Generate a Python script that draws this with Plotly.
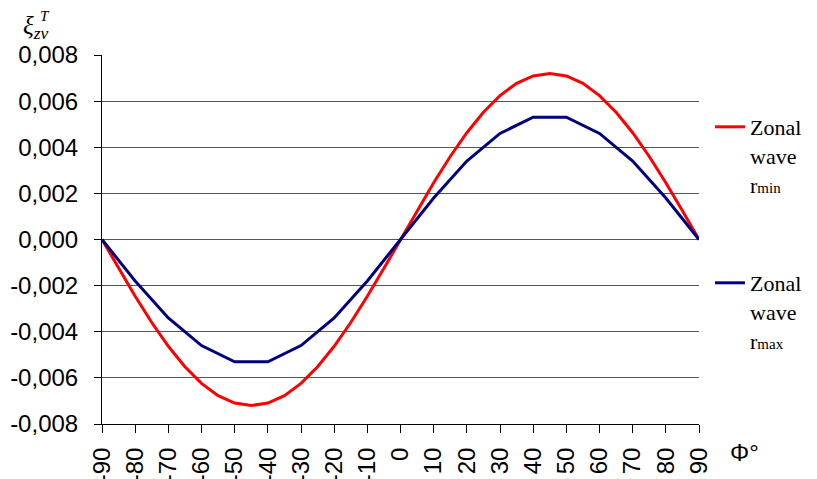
import plotly.graph_objects as go

# Latitude (degrees)
phi_red = [-90, -85, -80, -75, -70, -65, -60, -55, -50, -45, -40, -35, -30, -25, -20, -15, -10, -5,
           0, 5, 10, 15, 20, 25, 30, 35, 40, 45, 50, 55, 60, 65, 70, 75, 80, 85, 90]
zonal_rmin = [0.0, -0.00125, -0.00246, -0.0036, -0.00463, -0.00552, -0.00624, -0.00677, -0.00709, -0.0072,
              -0.00709, -0.00677, -0.00624, -0.00552, -0.00463, -0.0036, -0.00246, -0.00125,
              0.0, 0.00125, 0.00246, 0.0036, 0.00463, 0.00552, 0.00624, 0.00677, 0.00709, 0.0072,
              0.00709, 0.00677, 0.00624, 0.00552, 0.00463, 0.0036, 0.00246, 0.00125, 0.0]
phi_blue = [-90, -80, -70, -60, -50, -40, -30, -20, -10, 0, 10, 20, 30, 40, 50, 60, 70, 80, 90]
zonal_rmax = [0.0, -0.0018, -0.0034, -0.0046, -0.0053, -0.0053, -0.0046, -0.0034, -0.0018,
              0.0, 0.0018, 0.0034, 0.0046, 0.0053, 0.0053, 0.0046, 0.0034, 0.0018, 0.0]
x_ticks = list(range(-90, 91, 10))
x_tick_labels = ["-90", "-80", "-70", "-60", "-50", "-40", "-30", "-20", "-10", "0",
                 "10", "20", "30", "40", "50", "60", "70", "80", "90"]
y_ticks = [-0.008, -0.006, -0.004, -0.002, 0.0, 0.002, 0.004, 0.006, 0.008]
y_tick_labels = ["-0,008", "-0,006", "-0,004", "-0,002", "0,000", "0,002", "0,004", "0,006", "0,008"]

# page body has an 8px margin; screen coords = figure coords + 8
OFF = 8
W, H = 817, 479
L = 102 - OFF
T = 55 - OFF
R = W - (699 - OFF)
B = H - (424 - OFF)
pw, ph = W - L - R, H - T - B


def px(x):
    return (x - OFF - L) / pw


def py(y):
    return (H - B - (y - OFF)) / ph


serif = "Liberation Serif, Times New Roman, serif"
sans = "Liberation Sans, Arial, sans-serif"

fig = go.Figure()
fig.add_trace(go.Scatter(x=phi_red, y=zonal_rmin, mode="lines",
                         line=dict(color="#ff0000", width=3),
                         name="Zonal<br>wave<br>r<span style='font-size:15px'>min</span>",
                         legend="legend"))
fig.add_trace(go.Scatter(x=phi_blue, y=zonal_rmax, mode="lines",
                         line=dict(color="#000080", width=3),
                         name="Zonal<br>wave<br>r<span style='font-size:15px'>max</span>",
                         legend="legend2"))

legend_common = dict(font=dict(family=serif, size=22, color="black"),
                     bgcolor="rgba(0,0,0,0)", valign="top", itemwidth=30,
                     xanchor="left", yanchor="top", xref="paper", yref="paper")

fig.update_layout(
    width=W, height=H,
    margin=dict(l=L, r=R, t=T, b=B, autoexpand=False),
    paper_bgcolor="white", plot_bgcolor="white",
    showlegend=True,
    legend=dict(x=px(710), y=py(106), **legend_common),
    legend2=dict(x=px(710), y=py(262), **legend_common),
    xaxis=dict(range=[-90, 90], tickvals=x_ticks, ticktext=x_tick_labels, tickangle=-90,
               showgrid=False, zeroline=False, automargin=False,
               showline=True, linecolor="black", linewidth=1,
               ticks="outside", ticklen=8, tickcolor="black",
               ticklabelstandoff=5,
               tickfont=dict(family=sans, size=24, color="black")),
    yaxis=dict(range=[-0.008, 0.008], tickvals=y_ticks, ticktext=y_tick_labels,
               showgrid=True, gridcolor="#555555", gridwidth=1,
               zeroline=False, automargin=False,
               showline=True, linecolor="black", linewidth=1,
               ticks="outside", ticklen=7, tickcolor="black",
               ticklabelstandoff=11,
               tickfont=dict(family=sans, size=24, color="black")),
)
fig.add_annotation(text="<i>ξ<sub>zv</sub></i>", x=px(21), y=py(27), xref="paper", yref="paper",
                   showarrow=False, xanchor="left", yanchor="middle",
                   font=dict(family=serif, size=25, color="black"))
fig.add_annotation(text="<i>T</i>", x=px(38), y=py(16), xref="paper", yref="paper",
                   showarrow=False, xanchor="left", yanchor="middle",
                   font=dict(family=serif, size=15, color="black"))
fig.add_annotation(text="Φ°", x=px(728), y=py(452), xref="paper", yref="paper",
                   showarrow=False, xanchor="left", yanchor="middle",
                   font=dict(family=sans, size=24, color="black"))

fig.write_html("out.html")
